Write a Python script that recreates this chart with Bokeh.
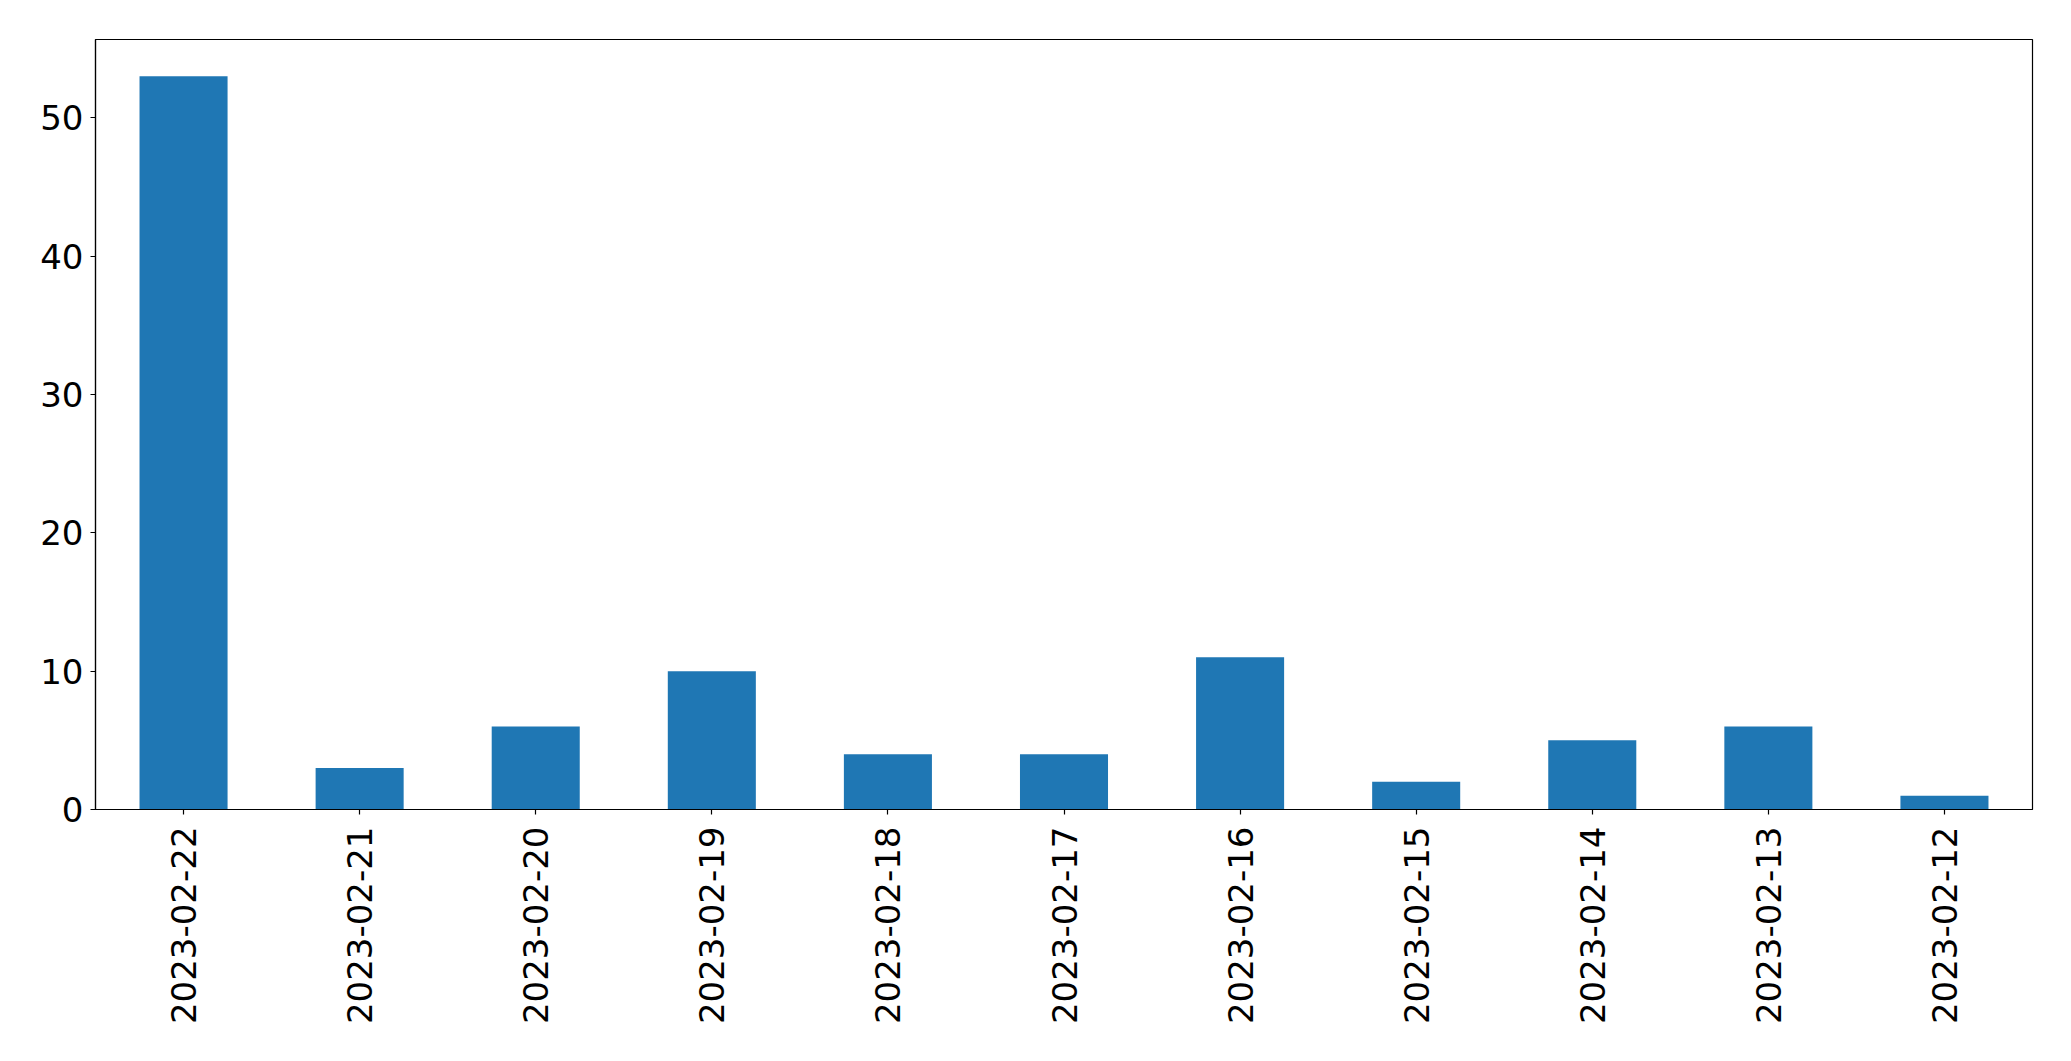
import math
from bokeh.plotting import figure
from bokeh.models import FactorRange, Range1d, ColumnDataSource, FixedTicker
from bokeh.embed import file_html
from bokeh.resources import INLINE

dates = ["2023-02-22", "2023-02-21", "2023-02-20", "2023-02-19", "2023-02-18",
         "2023-02-17", "2023-02-16", "2023-02-15", "2023-02-14", "2023-02-13",
         "2023-02-12"]
counts = [53, 3, 6, 10, 4, 4, 11, 2, 5, 6, 1]
y_ticks = [0, 10, 20, 30, 40, 50]

src = ColumnDataSource(dict(x=dates, top=counts))

p = figure(width=2040, height=1050, output_backend="svg", toolbar_location=None,
           x_range=FactorRange(*dates), y_range=Range1d(0, max(counts) * 1.05),
           min_border_left=95, min_border_top=39, min_border_right=8,
           min_border_bottom=241)
p.vbar(x="x", top="top", width=0.5, source=src, color="#1f77b4", line_color=None)

p.xgrid.visible = False
p.ygrid.visible = False
p.outline_line_color = "black"
p.outline_line_alpha = 1
p.outline_line_width = 1.2

for ax in (p.xaxis[0], p.yaxis[0]):
    ax.axis_line_color = "black"
    ax.axis_line_width = 1.2
    ax.major_tick_line_color = "black"
    ax.major_tick_line_width = 1.2
    ax.major_tick_out = 5
    ax.major_tick_in = 0
    ax.minor_tick_line_color = None
    ax.major_label_text_font = "DejaVu Sans"
    ax.major_label_text_font_size = "34px"
    ax.major_label_text_color = "black"

p.yaxis[0].ticker = FixedTicker(ticks=y_ticks)
p.yaxis[0].major_label_standoff = 7
p.xaxis[0].major_label_orientation = math.pi / 2
p.xaxis[0].major_label_standoff = 12

open("out.html", "w").write(file_html(p, INLINE))
